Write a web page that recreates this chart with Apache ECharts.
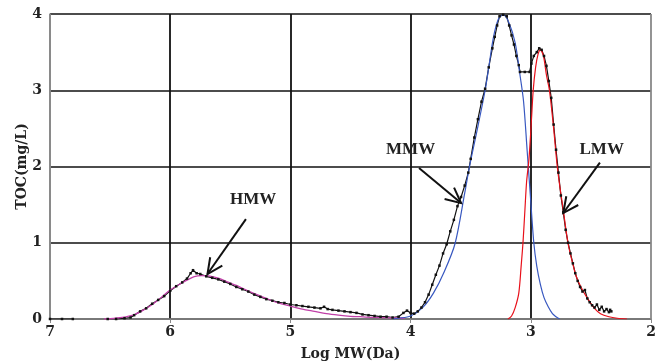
<!DOCTYPE html>
<html>
<head>
<meta charset="utf-8">
<script src="https://cdn.jsdelivr.net/npm/echarts@6/dist/echarts.min.js"></script>
<style>
  html, body { margin: 0; padding: 0; background: #fff; }
  #chart { width: 662px; height: 361px; }
</style>
</head>
<body>
<div id="chart"></div>
<script>
// measured TOC trace (black, dotted)
const measX = [7.0, 6.9, 6.81, 6.7, 6.52, 6.45, 6.38, 6.33, 6.3, 6.25, 6.2, 6.15, 6.1, 6.05, 6.0, 5.95, 5.9, 5.86, 5.83, 5.81, 5.78, 5.75, 5.7, 5.65, 5.6, 5.55, 5.5, 5.45, 5.4, 5.35, 5.3, 5.25, 5.2, 5.15, 5.1, 5.05, 5.0, 4.95, 4.9, 4.85, 4.8, 4.75, 4.72, 4.69, 4.65, 4.6, 4.55, 4.5, 4.45, 4.4, 4.35, 4.3, 4.25, 4.2, 4.15, 4.1, 4.06, 4.03, 4.0, 3.97, 3.94, 3.91, 3.88, 3.85, 3.82, 3.79, 3.76, 3.73, 3.7, 3.67, 3.64, 3.61, 3.58, 3.55, 3.52, 3.5, 3.47, 3.44, 3.41, 3.38, 3.35, 3.32, 3.3, 3.28, 3.26, 3.23, 3.2, 3.18, 3.16, 3.14, 3.12, 3.1, 3.09, 3.05, 3.01, 2.995, 2.975, 2.95, 2.93, 2.91, 2.89, 2.87, 2.85, 2.83, 2.81, 2.79, 2.77, 2.75, 2.73, 2.71, 2.69, 2.67, 2.65, 2.63, 2.61, 2.59, 2.57, 2.55, 2.53, 2.51, 2.49, 2.47, 2.45, 2.43, 2.41, 2.39, 2.37, 2.35, 2.34, 2.33];
const measY = [0, 0, 0, '-', 0, 0, 0.01, 0.02, 0.05, 0.1, 0.14, 0.2, 0.25, 0.3, 0.37, 0.43, 0.48, 0.53, 0.6, 0.64, 0.6, 0.59, 0.56, 0.54, 0.52, 0.49, 0.46, 0.42, 0.39, 0.36, 0.32, 0.29, 0.26, 0.24, 0.22, 0.21, 0.19, 0.18, 0.17, 0.16, 0.15, 0.14, 0.16, 0.13, 0.12, 0.11, 0.1, 0.09, 0.08, 0.06, 0.05, 0.04, 0.03, 0.03, 0.02, 0.03, 0.08, 0.11, 0.08, 0.07, 0.1, 0.15, 0.22, 0.32, 0.45, 0.58, 0.7, 0.86, 0.98, 1.15, 1.3, 1.48, 1.6, 1.75, 1.92, 2.1, 2.38, 2.62, 2.85, 3.02, 3.3, 3.55, 3.7, 3.85, 3.97, 3.99, 3.97, 3.85, 3.72, 3.6, 3.45, 3.33, 3.24, 3.24, 3.24, 3.35, 3.45, 3.5, 3.55, 3.53, 3.45, 3.32, 3.12, 2.9, 2.55, 2.22, 1.92, 1.62, 1.4, 1.17, 1.0, 0.86, 0.73, 0.6, 0.5, 0.42, 0.36, 0.38, 0.27, 0.22, 0.18, 0.15, 0.19, 0.12, 0.16, 0.1, 0.13, 0.09, 0.12, 0.1];

// fitted components
const hmwX = [6.55, 6.5, 6.4, 6.31, 6.22, 6.14, 6.07, 6.0, 5.93, 5.86, 5.8, 5.74, 5.68, 5.6, 5.53, 5.45, 5.38, 5.31, 5.2, 5.1, 5.0, 4.9, 4.8, 4.7, 4.6, 4.5, 4.42, 4.3, 4.15, 4.05];
const hmwY = [0, 0.003, 0.02, 0.05, 0.12, 0.2, 0.29, 0.38, 0.45, 0.51, 0.555, 0.57, 0.565, 0.535, 0.49, 0.44, 0.39, 0.34, 0.27, 0.21, 0.17, 0.13, 0.1, 0.07, 0.05, 0.035, 0.03, 0.02, 0.015, 0.01];

const mmwX = [4.15, 4.1, 4.0, 3.9, 3.81, 3.72, 3.63, 3.55, 3.51, 3.45, 3.38, 3.35, 3.31, 3.27, 3.23, 3.18, 3.13, 3.09, 3.06, 3.03, 3.005, 2.975, 2.95, 2.92, 2.89, 2.855, 2.82, 2.79, 2.76];
const mmwY = [0, 0.01, 0.04, 0.15, 0.34, 0.62, 0.99, 1.65, 2.0, 2.45, 3.0, 3.3, 3.7, 3.93, 3.99, 3.88, 3.62, 3.2, 2.85, 2.2, 1.65, 1.0, 0.69, 0.45, 0.28, 0.16, 0.07, 0.03, 0];

const lmwX = [3.19, 3.16, 3.13, 3.1, 3.08, 3.065, 3.05, 3.035, 3.015, 2.995, 2.98, 2.96, 2.94, 2.92, 2.895, 2.87, 2.845, 2.81, 2.78, 2.755, 2.73, 2.69, 2.65, 2.62, 2.57, 2.52, 2.47, 2.42, 2.35, 2.28, 2.2];
const lmwY = [0, 0.04, 0.15, 0.34, 0.7, 1.0, 1.4, 1.8, 2.1, 2.6, 3.0, 3.3, 3.47, 3.53, 3.45, 3.2, 3.0, 2.5, 2.0, 1.7, 1.43, 0.99, 0.72, 0.55, 0.38, 0.25, 0.14, 0.07, 0.03, 0.01, 0];

// labels with arrows: [text, textX, textY, fromX, fromY, tipX, tipY]
const notes = [
  ['HMW', 5.31, 1.56, 5.37, 1.31, 5.69, 0.59],
  ['MMW', 4.0, 2.22, 3.93, 1.98, 3.58, 1.52],
  ['LMW', 2.41, 2.22, 2.425, 2.05, 2.73, 1.39]
];

const zip = (xs, ys) => xs.map((x, i) => [x, ys[i]]);
const font = '"DejaVu Serif", serif';

const chart = echarts.init(document.getElementById('chart'));

chart.setOption({
  animation: false,
  grid: { left: 50, right: 11, top: 14, bottom: 42, outerBoundsMode: 'none' },
  xAxis: {
    type: 'value', min: 2, max: 7, interval: 1, inverse: true,
    name: 'Log MW(Da)', nameLocation: 'middle', nameGap: 28, nameMoveOverlap: false,
    nameTextStyle: { fontFamily: font, fontWeight: 'bold', fontSize: 14, color: '#222' },
    axisLine: { lineStyle: { color: '#888', width: 1.5 } },
    axisTick: { show: true, length: 4, lineStyle: { color: '#888' } },
    axisLabel: { fontFamily: font, fontWeight: 'bold', fontSize: 14, color: '#222', margin: 6 },
    splitLine: { lineStyle: { color: ['#888', '#111', '#111', '#111', '#111', '#888'], width: 1.8 } }
  },
  yAxis: {
    type: 'value', min: 0, max: 4, interval: 1,
    name: 'TOC(mg/L)', nameLocation: 'middle', nameGap: 21, nameMoveOverlap: false,
    nameTextStyle: { fontFamily: font, fontWeight: 'bold', fontSize: 14, color: '#222' },
    axisLine: { show: true, lineStyle: { color: '#888', width: 1.5 } },
    axisTick: { show: false },
    axisLabel: { fontFamily: font, fontWeight: 'bold', fontSize: 14, color: '#222', margin: 8 },
    splitLine: { lineStyle: { color: '#111', width: 1.5 } }
  },
  series: [
    {
      name: 'measured', type: 'line', data: zip(measX, measY),
      symbol: 'rect', symbolSize: 2.5, itemStyle: { color: '#111' },
      lineStyle: { color: '#111', width: 1.2 }
    },
    {
      name: 'HMW', type: 'line', smooth: 0.3, showSymbol: false, data: zip(hmwX, hmwY),
      lineStyle: { color: '#c040a8', width: 1.3 }
    },
    {
      name: 'MMW', type: 'line', smooth: 0.3, showSymbol: false, data: zip(mmwX, mmwY),
      lineStyle: { color: '#3858c0', width: 1.2 }
    },
    {
      name: 'LMW', type: 'line', smooth: 0.3, showSymbol: false, data: zip(lmwX, lmwY),
      lineStyle: { color: '#e8101a', width: 1.2 }
    }
  ]
});

// arrows + labels placed from data coords
const px = (x, y) => chart.convertToPixel({ gridIndex: 0 }, [x, y]);
const graphics = [];
notes.forEach(([txt, tx, ty, fx, fy, ax, ay]) => {
  const t = px(tx, ty), f = px(fx, fy), a = px(ax, ay);
  const ang = Math.atan2(f[1] - a[1], f[0] - a[0]);
  const head = (d) => [a[0] + 17 * Math.cos(ang + d), a[1] + 17 * Math.sin(ang + d)];
  graphics.push(
    { type: 'line', shape: { x1: f[0], y1: f[1], x2: a[0], y2: a[1] }, style: { stroke: '#111', lineWidth: 2 }, z: 10 },
    { type: 'polyline', shape: { points: [head(0.45), a, head(-0.45)] }, style: { stroke: '#111', lineWidth: 2, fill: null }, z: 10 },
    {
      type: 'text', x: t[0], y: t[1], z: 10,
      style: { text: txt, font: 'bold 17px "Liberation Serif", serif', fill: '#222', align: 'center', verticalAlign: 'middle' }
    }
  );
});
chart.setOption({ graphic: graphics });
</script>
</body>
</html>
